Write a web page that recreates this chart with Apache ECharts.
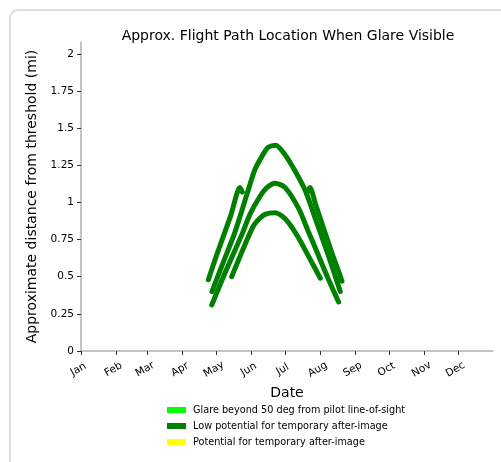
<!DOCTYPE html>
<html>
<head>
<meta charset="utf-8">
<script src="https://cdn.jsdelivr.net/npm/echarts@6/dist/echarts.min.js"></script>
<style>
  html, body { margin: 0; padding: 0; background: #fff; }
  #chart { width: 501px; height: 462px; }
</style>
</head>
<body>
<div id="chart"></div>
<script>
// month ticks on a day-of-year axis
const monthNames = ['Jan', 'Feb', 'Mar', 'Apr', 'May', 'Jun', 'Jul', 'Aug', 'Sep', 'Oct', 'Nov', 'Dec']
const monthStarts = [0, 31, 59, 90, 120, 151, 181, 212, 243, 273, 304, 334]
const yTicks = [0, 0.25, 0.5, 0.75, 1, 1.25, 1.5, 1.75, 2]

// glare traces (day of year, miles)
const outerDays = [116, 126.7, 136.4, 146.8, 154, 160.3, 165.6, 172.5, 180.9, 189.8, 198.7, 208.1, 217.9, 224.1, 229.7]
const outerVals = [0.40, 0.61, 0.80, 1.05, 1.22, 1.31, 1.37, 1.385, 1.32, 1.21, 1.08, 0.88, 0.67, 0.53, 0.40]
const middleDays = [115.8, 128.4, 142.3, 149.7, 158.5, 164.7, 172, 180.9, 192.8, 201.1, 210, 218.8, 228.2]
const middleVals = [0.31, 0.54, 0.78, 0.92, 1.04, 1.10, 1.13, 1.10, 0.96, 0.81, 0.65, 0.49, 0.33]
const innerDays = [133.5, 143.8, 152.6, 158, 163, 171.8, 181, 187, 192.8, 202.8, 212]
const innerVals = [0.50, 0.69, 0.84, 0.89, 0.92, 0.93, 0.89, 0.83, 0.76, 0.62, 0.49]
const sideLeftDays = [112.8, 119, 126, 133, 140.8, 142.9]
const sideLeftVals = [0.48, 0.62, 0.77, 0.92, 1.10, 1.07]
const sideRightDays = [199.9, 202.8, 208.1, 215.2, 222.3, 227.6, 231.2]
const sideRightVals = [1.06, 1.10, 0.98, 0.82, 0.66, 0.55, 0.47]

const legendNames = [
  'Glare beyond 50 deg from pilot line-of-sight',
  'Low potential for temporary after-image',
  'Potential for temporary after-image'
]
const legendColors = ['#00ff00', '#008000', '#ffff00']

const font = 'DejaVu Sans'

function pairs(days, vals) {
  return days.map((d, i) => [d, vals[i]])
}

function trace(days, vals) {
  return {
    name: legendNames[1],
    type: 'line',
    data: pairs(days, vals),
    smooth: 0.25,
    symbol: 'none',
    color: legendColors[1],
    lineStyle: { width: 5, color: legendColors[1], cap: 'round', join: 'round' },
    silent: true,
    animation: false
  }
}

const chart = echarts.init(document.getElementById('chart'))

chart.setOption({
  animation: false,
  graphic: [{
    type: 'rect',
    shape: { x: 10, y: 10, width: 600, height: 600, r: 8 },
    style: { fill: 'none', stroke: '#dedede', lineWidth: 2 },
    z: -1
  }],
  title: {
    text: 'Approx. Flight Path Location When Glare Visible',
    left: 283,
    top: 24,
    textAlign: 'center',
    textStyle: { fontFamily: font, fontSize: 14, fontWeight: 'normal', color: '#000' }
  },
  legend: {
    data: legendNames,
    orient: 'vertical',
    left: 167,
    top: 404,
    padding: 0,
    icon: 'rect',
    itemWidth: 19,
    itemHeight: 6,
    itemGap: 4,
    textStyle: { fontFamily: font, fontSize: 9.7, color: '#000', lineHeight: 12, padding: [0, 0, 0, 2] }
  },
  grid: { left: 81, right: 8, top: 42, bottom: 111 },
  xAxis: {
    type: 'value',
    min: 0,
    max: 365,
    name: 'Date',
    nameLocation: 'middle',
    nameGap: 33,
    nameTextStyle: { fontFamily: font, fontSize: 14, color: '#000' },
    splitLine: { show: false },
    axisLine: { lineStyle: { color: '#b0b0b0', width: 1.5 } },
    axisTick: { customValues: monthStarts, length: 4, lineStyle: { color: '#333' } },
    axisLabel: {
      customValues: monthStarts,
      formatter: v => monthNames[monthStarts.indexOf(v)] || '',
      rotate: 30,
      align: 'center',
      verticalAlign: 'middle',
      margin: 17,
      padding: [0, 6, 0, 0],
      fontFamily: font,
      fontSize: 10.5,
      color: '#000'
    }
  },
  yAxis: {
    type: 'value',
    min: 0,
    max: 2.08,
    name: 'Approximate distance from threshold (mi)',
    nameLocation: 'middle',
    nameGap: 38,
    nameTextStyle: { fontFamily: font, fontSize: 14, color: '#000' },
    splitLine: { show: false },
    axisLine: { show: true, lineStyle: { color: '#b0b0b0', width: 1.5 } },
    axisTick: { show: true, customValues: yTicks, length: 4, lineStyle: { color: '#333' } },
    axisLabel: {
      customValues: yTicks,
      margin: 7,
      fontFamily: font,
      fontSize: 10.5,
      color: '#000'
    }
  },
  series: [
    { name: legendNames[0], type: 'line', data: [], color: legendColors[0], symbol: 'none' },
    trace(outerDays, outerVals),
    trace(middleDays, middleVals),
    trace(innerDays, innerVals),
    trace(sideLeftDays, sideLeftVals),
    trace(sideRightDays, sideRightVals),
    { name: legendNames[2], type: 'line', data: [], color: legendColors[2], symbol: 'none' }
  ]
})
</script>
</body>
</html>
